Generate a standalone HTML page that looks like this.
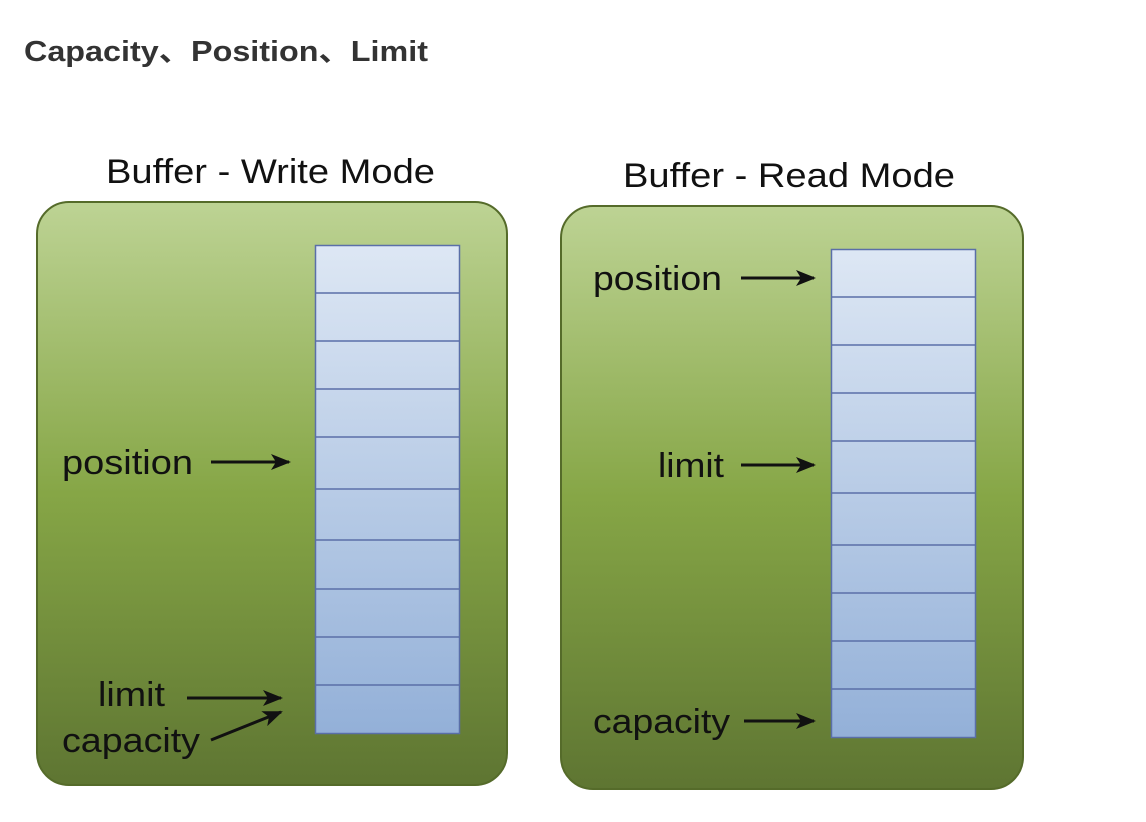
<!DOCTYPE html>
<html><head><meta charset="utf-8"><style>
html,body{margin:0;padding:0;background:#fff;width:1146px;height:822px;overflow:hidden}
</style></head><body>
<svg width="1146" height="822" xmlns="http://www.w3.org/2000/svg" font-family="Liberation Sans, DejaVu Sans, sans-serif">
<defs>
<linearGradient id="g" x1="0" y1="0" x2="0" y2="1">
<stop offset="0" stop-color="#bdd394"/><stop offset="0.5" stop-color="#86a646"/><stop offset="1" stop-color="#5e7532"/>
</linearGradient>
<linearGradient id="c" x1="0" y1="0" x2="0" y2="1">
<stop offset="0" stop-color="#dde7f4"/><stop offset="1" stop-color="#93b0d8"/>
</linearGradient>
<marker id="a" markerWidth="20" markerHeight="16" refX="18" refY="8" orient="auto" markerUnits="userSpaceOnUse"><path d="M0,0 L20,8 L0,16 L5,8z" fill="#111"/></marker>
</defs>
<text x="24" y="61" font-size="29" font-weight="bold" fill="#333" textLength="404" lengthAdjust="spacingAndGlyphs" font-family="Liberation Sans, Noto Sans CJK SC, sans-serif">Capacity、Position、Limit</text>
<text x="106" y="183" font-size="34" fill="#111" textLength="329" lengthAdjust="spacingAndGlyphs">Buffer - Write Mode</text>
<text x="623" y="187" font-size="34" fill="#111" textLength="332" lengthAdjust="spacingAndGlyphs">Buffer - Read Mode</text>
<rect x="37" y="202" width="470" height="583" rx="32" fill="url(#g)" stroke="#556b2a" stroke-width="2"/>
<rect x="561" y="206" width="462" height="583" rx="32" fill="url(#g)" stroke="#556b2a" stroke-width="2"/>
<rect x="315.5" y="245.5" width="144" height="488" fill="url(#c)" stroke="#5a6fa8" stroke-width="1.5"/>
<g stroke="#5a6fa8" stroke-width="1.5">
<line x1="315" x2="459" y1="293" y2="293"/><line x1="315" x2="459" y1="341" y2="341"/><line x1="315" x2="459" y1="389" y2="389"/><line x1="315" x2="459" y1="437" y2="437"/><line x1="315" x2="459" y1="489" y2="489"/><line x1="315" x2="459" y1="540" y2="540"/><line x1="315" x2="459" y1="589" y2="589"/><line x1="315" x2="459" y1="637" y2="637"/><line x1="315" x2="459" y1="685" y2="685"/>
</g>
<rect x="831.5" y="249.5" width="144" height="488" fill="url(#c)" stroke="#5a6fa8" stroke-width="1.5"/>
<g stroke="#5a6fa8" stroke-width="1.5">
<line x1="831" x2="975" y1="297" y2="297"/><line x1="831" x2="975" y1="345" y2="345"/><line x1="831" x2="975" y1="393" y2="393"/><line x1="831" x2="975" y1="441" y2="441"/><line x1="831" x2="975" y1="493" y2="493"/><line x1="831" x2="975" y1="545" y2="545"/><line x1="831" x2="975" y1="593" y2="593"/><line x1="831" x2="975" y1="641" y2="641"/><line x1="831" x2="975" y1="689" y2="689"/>
</g>
<g font-size="34" fill="#111" lengthAdjust="spacingAndGlyphs">
<text x="62" y="474" textLength="131" lengthAdjust="spacingAndGlyphs">position</text>
<text x="98" y="706" textLength="67" lengthAdjust="spacingAndGlyphs">limit</text>
<text x="62" y="752" textLength="138" lengthAdjust="spacingAndGlyphs">capacity</text>
<text x="593" y="290" textLength="129" lengthAdjust="spacingAndGlyphs">position</text>
<text x="658" y="477" textLength="66" lengthAdjust="spacingAndGlyphs">limit</text>
<text x="593" y="733" textLength="137" lengthAdjust="spacingAndGlyphs">capacity</text>
</g>
<g stroke="#111" stroke-width="3" marker-end="url(#a)">
<line x1="211" y1="462" x2="289" y2="462"/>
<line x1="187" y1="698" x2="281" y2="698"/>
<line x1="211" y1="740" x2="281" y2="712"/>
<line x1="741" y1="278" x2="814" y2="278"/>
<line x1="741" y1="465" x2="814" y2="465"/>
<line x1="744" y1="721" x2="814" y2="721"/>
</g>
</svg>
</body></html>
